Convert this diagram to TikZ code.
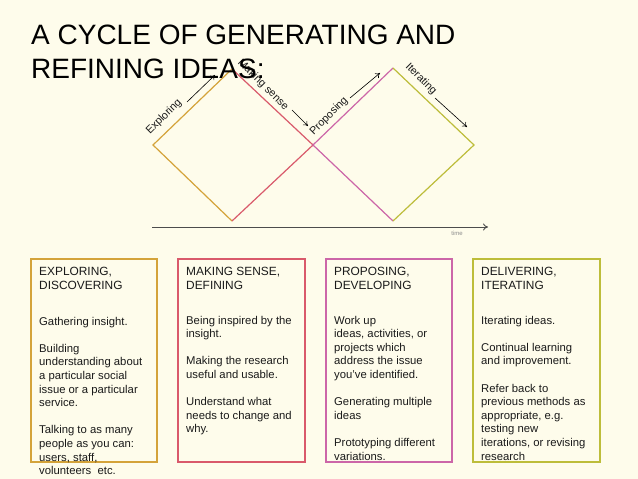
\documentclass[tikz,border=0pt]{standalone}
\usepackage{fontspec}
\setmainfont{Liberation Sans}
\usetikzlibrary{arrows.meta}
\definecolor{bg}{HTML}{FEFCEB}
\definecolor{cgold}{HTML}{D4A33A}
\definecolor{cred}{HTML}{D95A6B}
\definecolor{cpink}{HTML}{CC66A8}
\definecolor{colive}{HTML}{BDBD3A}
\definecolor{ctext}{HTML}{1A1A1A}
\tikzset{
  edge/.style={line width=1.2pt},
  lbl/.style={font=\fontsize{10.8}{12}\selectfont, text=ctext, inner sep=0pt},
  arr/.style={-{To[length=4.5pt,width=6pt]}, line width=0.6pt, black},
  cbox/.style={draw, line width=1.2pt},
  hdr/.style={anchor=base west, inner sep=0pt, text=ctext, font=\fontsize{11.9}{14}\selectfont},
  body/.style={anchor=base west, inner sep=0pt, text=ctext, font=\fontsize{11.3}{13.6}\selectfont},
}
\newcommand{\pgap}{\\[13.6pt]}
\begin{document}
\begin{tikzpicture}[x=1pt,y=-1pt]
\fill[bg] (0,0) rectangle (638,479);
\useasboundingbox (0,0) rectangle (638,479);
% diamond vertices
\coordinate (L1) at (153,145);
\coordinate (T1) at (232,69);
\coordinate (R1) at (313,145);
\coordinate (B1) at (232,221);
\coordinate (T2) at (393,68);
\coordinate (R2) at (474,145);
\coordinate (B2) at (393,221);
\draw[edge, cgold] (T1) -- (L1) -- (B1);
\draw[edge, cred] (T1) -- (R1) -- (B1);
\draw[edge, cpink] (T2) -- (R1) -- (B2);
\draw[edge, colive] (T2) -- (R2) -- (B2);
% timeline
\coordinate (t0) at (152,227);
\coordinate (t1) at (488,227);
\draw[-{To[length=5pt,width=7pt]}, line width=0.9pt, black!70] (t0) -- (t1);
\node[font=\fontsize{6}{7}\selectfont, text=black!45, inner sep=0pt] (time) at (457,233) {time};
% phase labels
\node[lbl, rotate=45] (lexp) at (164,117) {Exploring};
\node[lbl, rotate=-45] (lmak) at (263,85) {Making sense};
\node[lbl, rotate=45] (lpro) at (329,116) {Proposing};
\node[lbl, rotate=-45] (lite) at (421,79) {Iterating};
\coordinate (a1s) at (187,102); \coordinate (a1e) at (215,75);
\coordinate (a2s) at (292,110); \coordinate (a2e) at (308,126);
\coordinate (a3s) at (350,98);  \coordinate (a3e) at (380,73);
\coordinate (a4s) at (435,98);  \coordinate (a4e) at (467,127);
\draw[arr] (a1s) -- (a1e);
\draw[arr] (a2s) -- (a2e);
\draw[arr] (a3s) -- (a3e);
\draw[arr] (a4s) -- (a4e);
% boxes
\draw[cbox, cgold] (31,259) rectangle (157,462);
\draw[cbox, cred] (178,259) rectangle (305,462);
\draw[cbox, cpink] (326,259) rectangle (452,462);
\draw[cbox, colive] (473,259) rectangle (600,462);
% box texts
\node[hdr] (h1) at (39,275) {\parbox[t]{120pt}{EXPLORING,\\DISCOVERING}};
\node[hdr] (h2) at (186,275) {\parbox[t]{120pt}{MAKING SENSE,\\DEFINING}};
\node[hdr] (h3) at (334,275) {\parbox[t]{120pt}{PROPOSING,\\DEVELOPING}};
\node[hdr] (h4) at (481,275) {\parbox[t]{120pt}{DELIVERING,\\ITERATING}};
\node[body] (b1) at (39,325) {\parbox[t]{128pt}{\raggedright Gathering insight.\pgap Building\\understanding about\\a particular social\\issue or a particular\\service.\pgap Talking to as many\\people as you can:\\users, staff,\\volunteers\ \ etc.}};
\node[body] (b2) at (186,324) {\parbox[t]{128pt}{\raggedright Being inspired by the\\insight.\pgap Making the research\\useful and usable.\pgap Understand what\\needs to change and\\why.}};
\node[body] (b3) at (334,324) {\parbox[t]{128pt}{\raggedright Work up\\ideas, activities, or\\projects which\\address the issue\\you've identified.\pgap Generating multiple\\ideas\pgap Prototyping different\\variations.}};
\node[body] (b4) at (481,324) {\parbox[t]{128pt}{\raggedright Iterating ideas.\pgap Continual learning\\and improvement.\pgap Refer back to\\previous methods as\\appropriate, e.g.\\testing new\\iterations, or revising\\research}};
% title
\node[anchor=base west, inner sep=0pt, font=\fontsize{28}{33}\selectfont, text=black] (title1) at (31,45) {A CYCLE OF GENERATING AND};
\node[anchor=base west, inner sep=0pt, font=\fontsize{28}{33}\selectfont, text=black] (title2) at (31,78) {REFINING IDEAS:};
\end{tikzpicture}
\end{document}
